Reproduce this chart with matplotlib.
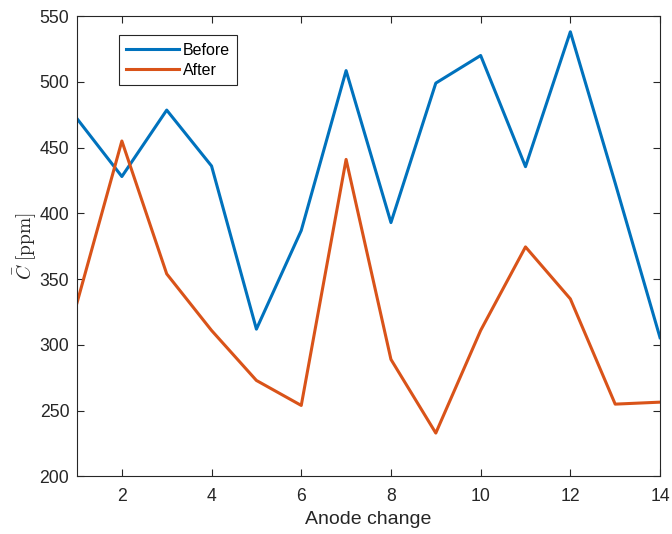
import matplotlib.pyplot as plt

plt.rcParams['font.family'] = ['Liberation Sans', 'DejaVu Sans']
plt.rcParams['mathtext.fontset'] = 'cm'

changes = list(range(1, 15))
before = [472, 428, 478.5, 436, 312, 387, 508.5, 393, 499, 520, 435.5, 538, 423, 305.5]
after = [332, 455, 354, 311, 273, 254, 441, 289, 233, 311, 374.5, 335, 255, 256.5]

axcol = '#262626'

fig = plt.figure(figsize=(6.72, 5.34), dpi=100)
ax = fig.add_axes([0.1146, 0.1077, 0.8676, 0.8623])

ax.plot(changes, before, color='#0072BD', lw=2.2, label='Before')
ax.plot(changes, after, color='#D95319', lw=2.2, label='After')

ax.set_xlim(1, 14)
ax.set_ylim(200, 550)
ax.set_xticks(range(2, 15, 2))
ax.set_yticks(range(200, 551, 50))

ax.tick_params(direction='in', top=True, right=True, length=5, width=0.8,
               labelsize=12.7, colors=axcol)
ax.tick_params(axis='x', pad=8.5)
ax.tick_params(axis='y', pad=5.5)
for s in ax.spines.values():
    s.set_color(axcol)
    s.set_linewidth(0.8)

ax.set_xlabel('Anode change', fontsize=14, color=axcol, labelpad=4)
ax.set_ylabel(r'$\bar{C}\ \mathrm{[ppm]}$', fontsize=14, color=axcol, labelpad=1)

leg = ax.legend(loc='upper left', bbox_to_anchor=(0.0715, 0.958), fontsize=11.5,
                fancybox=False, framealpha=1, borderpad=0.45, handlelength=3.35,
                handletextpad=0.2, labelspacing=0.32, borderaxespad=0)
leg.get_frame().set_edgecolor(axcol)
leg.get_frame().set_linewidth(0.8)

fig.savefig('out.png', dpi=100)
